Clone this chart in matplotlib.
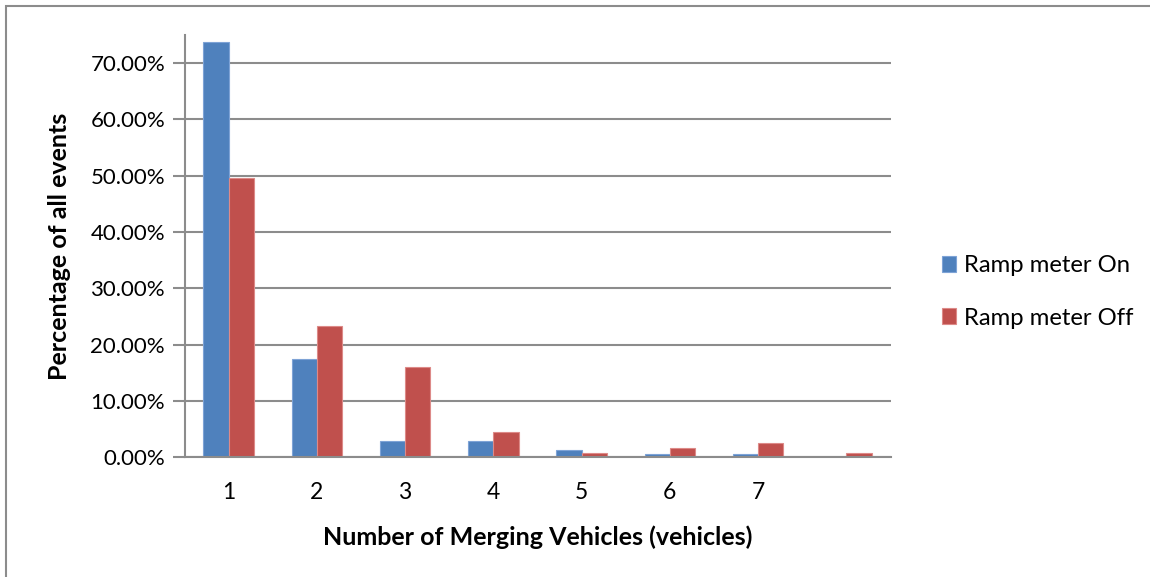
import numpy as np
import matplotlib
matplotlib.use("Agg")
import matplotlib.pyplot as plt
from matplotlib.patches import Rectangle
from matplotlib.ticker import FuncFormatter

# Data
categories = ["1", "2", "3", "4", "5", "6", "7", ""]
ramp_on = [0.738, 0.174, 0.0284, 0.0284, 0.013, 0.0059, 0.0059, 0.0]
ramp_off = [0.496, 0.233, 0.161, 0.0444, 0.0076, 0.0165, 0.026, 0.0076]
series_names = ["Ramp meter On", "Ramp meter Off"]

plt.rcParams["font.family"] = ["Lato", "DejaVu Sans"]

fig = plt.figure(figsize=(11.5, 5.77), dpi=100)
ax = fig.add_axes([184.5 / 1150, 1 - 457.3 / 577, (890.5 - 184.5) / 1150, (457.3 - 35) / 577])

# outer chart border (only left and top visible in reference)
fig.patches.append(Rectangle((5.5 / 1150, -0.1), 1.2, 1 - 5.5 / 577 + 0.1,
                             transform=fig.transFigure, fill=False,
                             edgecolor="#8c8c8c", linewidth=1.5))

x = np.arange(len(categories))
width = 1 / 3.5

bars_on = ax.bar(x - width / 2, ramp_on, width, color="#4F81BD",
                 edgecolor="#7ea3d6", linewidth=0.8, zorder=2, label=series_names[0])
bars_off = ax.bar(x + width / 2, ramp_off, width, color="#C0504D",
                  edgecolor="#dd8a88", linewidth=0.8, zorder=2, label=series_names[1])

ax.set_xlim(-0.5, len(categories) - 0.5)
ax.set_ylim(0, 0.75)
ax.set_yticks(np.arange(0, 0.71, 0.1))
ax.yaxis.set_major_formatter(FuncFormatter(lambda v, p: "%.2f%%" % (v * 100)))
ax.set_xticks(x)
ax.set_xticklabels(categories)

ax.grid(axis="y", color="#8c8c8c", linewidth=1.5, zorder=0)
ax.set_axisbelow(True)
for s in ["top", "right"]:
    ax.spines[s].set_visible(False)
for s in ["left", "bottom"]:
    ax.spines[s].set_color("#8c8c8c")
    ax.spines[s].set_linewidth(1.5)

ax.tick_params(axis="y", length=9, width=1.5, color="#8c8c8c", labelsize=16, pad=5)
ax.tick_params(axis="x", length=0, labelsize=16.5, pad=18)

ax.set_xlabel("Number of Merging Vehicles (vehicles)", fontsize=18, fontweight="bold", labelpad=16)
ax.set_ylabel("Percentage of all events", fontsize=18, fontweight="bold", labelpad=14)

fig.legend(handles=[bars_on, bars_off], loc="center left",
           bbox_to_anchor=(932 / 1150, 1 - 292 / 577), frameon=False,
           fontsize=17.2, handlelength=0.62, handleheight=0.62, handletextpad=0.3,
           labelspacing=1.3, borderaxespad=0)

fig.savefig("out.png", dpi=100)
